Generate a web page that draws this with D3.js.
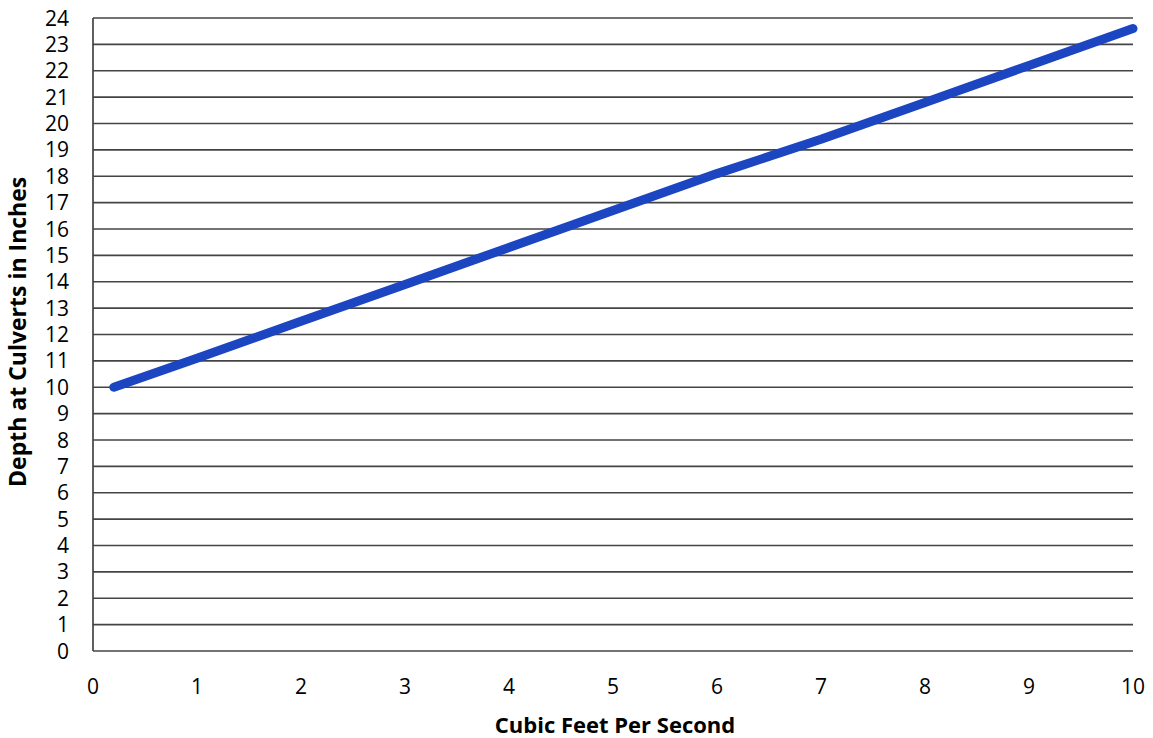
<!DOCTYPE html>
<html>
<head>
<meta charset="utf-8">
<script src="https://cdn.jsdelivr.net/npm/d3@7"></script>
<style>
  body { margin: 0; background: #fff; }
  text { font-family: "Open Sans", "Noto Sans", sans-serif; fill: #000; }
</style>
</head>
<body>
<svg id="chart" width="1153" height="738"></svg>
<script>
// flow in cfs vs depth in inches
const flow = [0.2, 1, 2, 3, 4, 5, 6, 7, 8, 9, 10];
const depth = [10, 11.1, 12.5, 13.9, 15.3, 16.7, 18.1, 19.4, 20.8, 22.2, 23.6];
const xTicks = [0, 1, 2, 3, 4, 5, 6, 7, 8, 9, 10];
const yTicks = d3.range(0, 25);

const svg = d3.select('#chart');
const margin = {left: 93, right: 20, top: 18, bottom: 87};
const width = 1153 - margin.left - margin.right;
const height = 738 - margin.top - margin.bottom;

const x = d3.scaleLinear().domain([0, 10]).range([margin.left, margin.left + width]);
const y = d3.scaleLinear().domain([0, 24]).range([margin.top + height, margin.top]);

// horizontal grid
svg.append('g')
    .selectAll('line')
    .data(yTicks)
    .enter()
    .append('line')
    .attr('x1', x(0))
    .attr('x2', x(10))
    .attr('y1', d => y(d))
    .attr('y2', d => y(d))
    .attr('stroke', '#444')
    .attr('stroke-width', 1.7);

// left axis line
svg.append('line')
    .attr('x1', x(0)).attr('x2', x(0))
    .attr('y1', y(0)).attr('y2', y(24))
    .attr('stroke', '#444')
    .attr('stroke-width', 1.7);

svg.append('g')
    .selectAll('text')
    .data(yTicks)
    .enter()
    .append('text')
    .attr('x', x(0) - 24)
    .attr('y', d => y(d))
    .attr('dy', '0.36em')
    .attr('text-anchor', 'end')
    .style('font-size', '21px')
    .text(d => d);

svg.append('g')
    .selectAll('text')
    .data(xTicks)
    .enter()
    .append('text')
    .attr('x', d => x(d))
    .attr('y', y(0) + 43)
    .attr('text-anchor', 'middle')
    .style('font-size', '21px')
    .text(d => d);

const line = d3.line()
    .x((d, i) => x(flow[i]))
    .y(d => y(d));

svg.append('path')
    .datum(depth)
    .attr('d', line)
    .attr('fill', 'none')
    .attr('stroke', '#1c45c2')
    .attr('stroke-width', 9)
    .attr('stroke-linecap', 'round')
    .attr('stroke-linejoin', 'round');

svg.append('text')
    .attr('x', 615)
    .attr('y', 733)
    .attr('text-anchor', 'middle')
    .style('font-size', '22px')
    .style('font-weight', 'bold')
    .text('Cubic Feet Per Second');

svg.append('text')
    .attr('transform', 'translate(26,' + y(12.1) + ') rotate(-90)')
    .attr('text-anchor', 'middle')
    .style('font-size', '23px')
    .style('font-weight', 'bold')
    .text('Depth at Culverts in Inches');
</script>
</body>
</html>
